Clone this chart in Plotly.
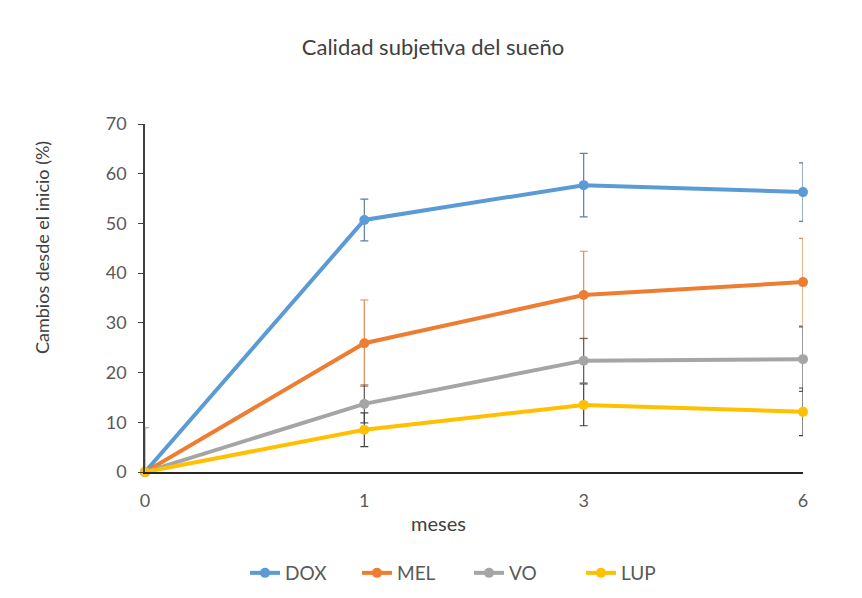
import plotly.graph_objects as go

months = ["0", "1", "3", "6"]
series_names = ["DOX", "MEL", "VO", "LUP"]
dox = [0, 50.7, 57.7, 56.3]
mel = [0, 25.9, 35.6, 38.2]
vo = [0, 13.7, 22.4, 22.7]
lup = [0, 8.5, 13.5, 12.1]
dox_err = [0, 4.2, 6.4, 5.9]
mel_err = [8.9, 8.7, 8.8, 8.8]
mel_err_minus = [0, 8.7, 8.8, 8.8]
vo_err = [0, 3.8, 4.5, 6.5]
lup_err = [0, 3.4, 4.2, 4.8]

chart_title = "Calidad subjetiva del sueño"
x_title = "meses"
y_title = "Cambios desde el inicio (%)"

line_colors = ["#5B9BD5", "#ED7D31", "#A5A5A5", "#FFC000"]
err_colors = ["#5A7FA8", "#E08A55", "#595959", "#404040"]

values = [dox, mel, vo, lup]
errs = [(dox_err, dox_err), (mel_err, mel_err_minus), (vo_err, vo_err), (lup_err, lup_err)]

W, H = 862, 598
L, R, T, B = 145, 59, 124, 126
pw, ph = W - L - R, H - T - B

fig = go.Figure()
for name, v, (ep, em), lc, ec in zip(series_names, values, errs, line_colors, err_colors):
    fig.add_trace(go.Scatter(
        x=months, y=v, name=name, mode="lines+markers",
        line=dict(color=lc, width=4),
        marker=dict(color=lc, size=10, symbol="circle"),
        error_y=dict(type="data", array=ep, arrayminus=em, symmetric=False,
                     color=ec, thickness=1.2, width=4),
        cliponaxis=False,
    ))

fig.update_layout(
    width=W, height=H,
    margin=dict(l=L, r=R, t=T, b=B),
    paper_bgcolor="white", plot_bgcolor="white",
    font=dict(family="Lato, Open Sans, sans-serif", color="#595959", size=14),
    title=dict(text=chart_title, x=433 / W, xanchor="center",
               y=1 - 47 / H, yanchor="middle",
               font=dict(size=22, color="#404040")),
    xaxis=dict(type="category", range=[0, 3], showgrid=False, zeroline=False,
               showline=True, linecolor="#262626", linewidth=1.5,
               ticks="", tickfont=dict(size=18, color="#595959"),
               ticklabelstandoff=12),
    yaxis=dict(range=[0, 70], dtick=10, showgrid=False, zeroline=False,
               showline=True, linecolor="#404040", linewidth=1.5,
               ticks="outside", ticklen=5, tickcolor="#404040",
               tickfont=dict(size=18, color="#595959"),
               ticklabelstandoff=8),
    legend=dict(orientation="h", x=245 / W, xref="container", xanchor="left",
                y=1 - 573 / H, yref="container", yanchor="middle",
                font=dict(size=19, color="#595959"), entrywidth=67),
    showlegend=True,
    annotations=[
        dict(text=y_title, xref="paper", yref="paper",
             x=(42 - L) / pw, y=(H - B - 248) / ph, xanchor="center", yanchor="middle",
             textangle=-90, showarrow=False, font=dict(size=18, color="#404040")),
        dict(text=x_title, xref="paper", yref="paper",
             x=(438 - L) / pw, y=(H - B - 523) / ph, xanchor="center", yanchor="middle",
             showarrow=False, font=dict(size=20, color="#404040")),
    ],
)

fig.write_html("out.html")
